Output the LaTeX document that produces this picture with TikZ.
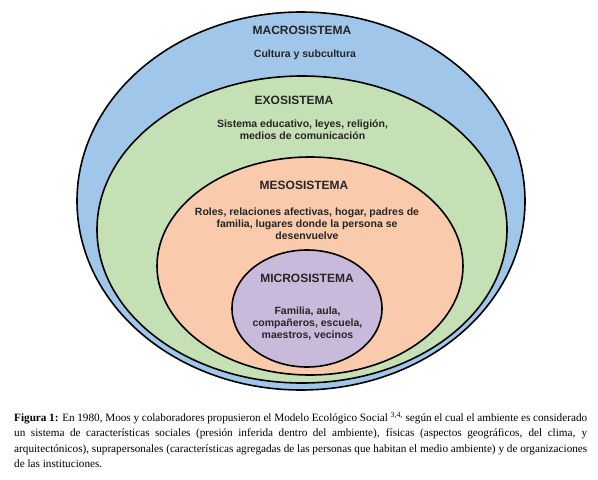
\documentclass[tikz,border=0pt]{standalone}
\usepackage{fontspec}
\setmainfont{Liberation Serif}
\newfontfamily\diagfont{Liberation Sans}
\usetikzlibrary{shapes.geometric}
\definecolor{macroblue}{RGB}{160,199,234}
\definecolor{exogreen}{RGB}{197,224,180}
\definecolor{mesoorange}{RGB}{249,202,171}
\definecolor{micropurple}{RGB}{201,186,220}
\tikzset{
  ring/.style={ellipse, draw=black, line width=1.6pt, inner sep=0pt},
  ttl/.style={font=\diagfont\bfseries\fontsize{12}{14}\selectfont, text=black!85, inner sep=0pt},
  body/.style={font=\diagfont\bfseries\fontsize{10.5}{12}\selectfont, text=black!85, align=center, inner sep=0pt},
}
\begin{document}
\begin{tikzpicture}[x=1pt,y=-1pt]
\useasboundingbox (0,0) rectangle (598,480);
\fill[white] (0,0) rectangle (598,480);
\node[ring, fill=macroblue, minimum width=448pt, minimum height=378pt] (macro) at (301,201) {};
\node[ring, fill=exogreen, minimum width=410pt, minimum height=307pt] (exo) at (302,229.5) {};
\node[ring, fill=mesoorange, minimum width=306pt, minimum height=218pt] (meso) at (310,266) {};
\node[ring, fill=micropurple, minimum width=150pt, minimum height=117pt] (micro) at (307,308.5) {};

\node[ttl] (tmacro) at (302,30) {MACROSISTEMA};
\node[body] (bmacro) at (305,55) {Cultura y subcultura};
\node[ttl] (texo) at (294,100) {EXOSISTEMA};
\node[body] (bexo) at (302.5,130) {Sistema educativo, leyes, religión,\\medios de comunicación};
\node[ttl] (tmeso) at (304,185) {MESOSISTEMA};
\node[body] (bmeso) at (307,224) {Roles, relaciones afectivas, hogar, padres de\\familia, lugares donde la persona se\\desenvuelve};
\node[ttl] (tmicro) at (307,278) {MICROSISTEMA};
\node[body] (bmicro) at (307.5,324) {Familia, aula,\\compañeros, escuela,\\maestros, vecinos};

\node[anchor=base west, text width=573pt, align=justify, inner sep=0pt,
      font=\fontsize{11.2}{15.5}\selectfont] (caption) at (14,421)
{\textbf{Figura 1:} En 1980, Moos y colaboradores propusieron el Modelo Ecológico Social \textsuperscript{3,4,} según el cual el ambiente es considerado\linebreak
un sistema de características sociales (presión inferida dentro del ambiente), físicas (aspectos geográficos, del clima, y\linebreak
arquitectónicos), suprapersonales (características agregadas de las personas que habitan el medio ambiente) y de organizaciones\linebreak
de las instituciones.};
\end{tikzpicture}
\end{document}
